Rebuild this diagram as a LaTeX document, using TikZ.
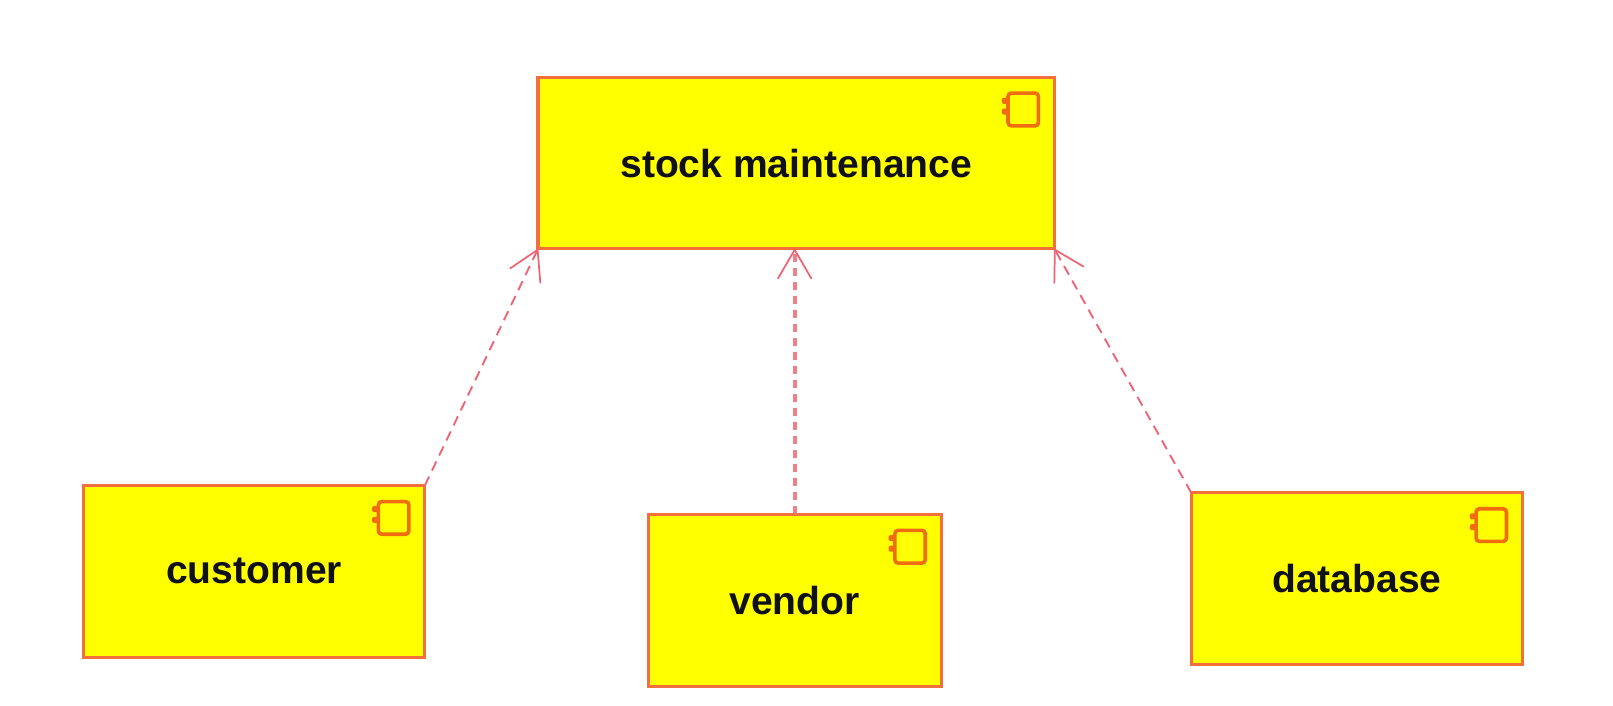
\documentclass[tikz,border=0pt]{standalone}
\usepackage{fontspec}
\setmainfont{Liberation Sans}
\usetikzlibrary{arrows.meta}
\definecolor{boxline}{HTML}{F2703C}
\definecolor{iconline}{HTML}{F06C10}
\definecolor{depline}{HTML}{EE6474}
\definecolor{depthick}{HTML}{F08088}
\definecolor{boxfill}{HTML}{FFFF00}
\definecolor{labelink}{HTML}{10101A}
\tikzset{
  compbox/.style={draw=boxline,fill=boxfill,line width=2.3pt,rectangle,inner sep=0pt,outer sep=0pt,
    text=labelink,font=\fontsize{29.3}{33}\selectfont\bfseries},
  iconbody/.style={draw=iconline,line width=2.7pt,rounded corners=2.5pt},
  icontab/.style={fill=iconline,rounded corners=1pt},
  depend/.style={draw=depline,line width=1.4pt,dash pattern=on 7.5pt off 5pt,
    -{Straight Barb[length=21.5pt,width=25pt,line width=1.3pt,round]}},
  dependthick/.style={draw=depthick,line width=3pt,dash pattern=on 6.5pt off 4pt,
    -{Straight Barb[length=21.5pt,width=25pt,line width=1.3pt,round,color=depline]}}
}
\newcommand{\compicon}[1]{%
  \draw[iconbody] ([xshift=-34.8pt,yshift=-12pt]#1.north east) rectangle ([xshift=-12pt,yshift=-36.5pt]#1.north east);
  \fill[icontab] ([xshift=-39.5pt,yshift=-15.5pt]#1.north east) rectangle ([xshift=-34pt,yshift=-20pt]#1.north east);
  \fill[icontab] ([xshift=-39.5pt,yshift=-23.5pt]#1.north east) rectangle ([xshift=-34pt,yshift=-28pt]#1.north east);
}
\begin{document}
\begin{tikzpicture}[x=0.7715pt,y=-0.7715pt]
\useasboundingbox (0,0) rectangle (1568,686.3);
\fill[white] (0,0) rectangle (1568,686.3);
\node[compbox,minimum width=387.3pt,minimum height=128.8pt] (stock) at (774,158.5) {stock maintenance};
\node[compbox,minimum width=256.1pt,minimum height=128.8pt] (customer) at (247,555.5) {customer};
\node[compbox,minimum width=219.9pt,minimum height=128.8pt] (vendor) at (772.5,583.5) {vendor};
\node[compbox,minimum width=248.4pt,minimum height=128.8pt] (database) at (1319,562.5) {database};
\compicon{stock}
\compicon{customer}
\compicon{vendor}
\compicon{database}
\draw[depend] (customer.north east) -- (stock.south west);
\draw[dependthick] (vendor.north) -- (vendor.north |- stock.south);
\draw[depend] (database.north west) -- (stock.south east);
\end{tikzpicture}
\end{document}
